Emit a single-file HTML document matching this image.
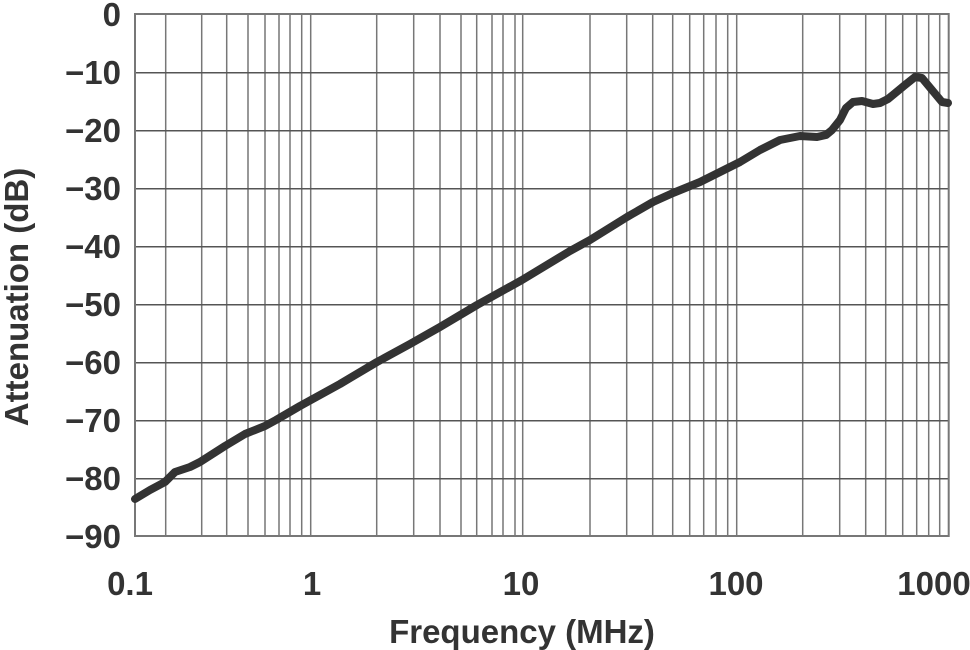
<!DOCTYPE html>
<html><head><meta charset="utf-8"><style>
html,body{margin:0;padding:0;background:#fff;}
svg{display:block;font-family:"Liberation Sans",Arial,sans-serif;font-weight:bold;fill:#333;}
</style></head><body>
<svg width="970" height="650" viewBox="0 0 970 650">
<g stroke="#777" stroke-width="1.5">
<line x1="165.7" y1="14" x2="165.7" y2="536"/><line x1="201.7" y1="14" x2="201.7" y2="536"/><line x1="226.7" y1="14" x2="226.7" y2="536"/><line x1="248" y1="14" x2="248" y2="536"/><line x1="265" y1="14" x2="265" y2="536"/><line x1="279" y1="14" x2="279" y2="536"/><line x1="290" y1="14" x2="290" y2="536"/><line x1="301.7" y1="14" x2="301.7" y2="536"/><line x1="310.7" y1="14" x2="310.7" y2="536"/>
<line x1="376.7" y1="14" x2="376.7" y2="536"/><line x1="413.7" y1="14" x2="413.7" y2="536"/><line x1="440" y1="14" x2="440" y2="536"/><line x1="461" y1="14" x2="461" y2="536"/><line x1="476.7" y1="14" x2="476.7" y2="536"/><line x1="492" y1="14" x2="492" y2="536"/><line x1="503" y1="14" x2="503" y2="536"/><line x1="515" y1="14" x2="515" y2="536"/><line x1="522.7" y1="14" x2="522.7" y2="536"/>
<line x1="590" y1="14" x2="590" y2="536"/><line x1="626.7" y1="14" x2="626.7" y2="536"/><line x1="652.7" y1="14" x2="652.7" y2="536"/><line x1="672.7" y1="14" x2="672.7" y2="536"/><line x1="689.7" y1="14" x2="689.7" y2="536"/><line x1="703.7" y1="14" x2="703.7" y2="536"/><line x1="716" y1="14" x2="716" y2="536"/><line x1="727.7" y1="14" x2="727.7" y2="536"/><line x1="736.7" y1="14" x2="736.7" y2="536"/>
<line x1="802.7" y1="14" x2="802.7" y2="536"/><line x1="839.7" y1="14" x2="839.7" y2="536"/><line x1="865.7" y1="14" x2="865.7" y2="536"/><line x1="885.7" y1="14" x2="885.7" y2="536"/><line x1="902.7" y1="14" x2="902.7" y2="536"/><line x1="916.7" y1="14" x2="916.7" y2="536"/><line x1="928.7" y1="14" x2="928.7" y2="536"/><line x1="939.7" y1="14" x2="939.7" y2="536"/>
</g>
<g stroke="#555" stroke-width="1.5">
<line x1="135" y1="72.7" x2="948.7" y2="72.7"/><line x1="135" y1="130.7" x2="948.7" y2="130.7"/><line x1="135" y1="188.7" x2="948.7" y2="188.7"/><line x1="135" y1="246.7" x2="948.7" y2="246.7"/><line x1="135" y1="304.7" x2="948.7" y2="304.7"/><line x1="135" y1="362.7" x2="948.7" y2="362.7"/><line x1="135" y1="420.7" x2="948.7" y2="420.7"/><line x1="135" y1="478.7" x2="948.7" y2="478.7"/>
</g>
<rect x="135" y="14" width="813.7" height="522" fill="none" stroke="#777" stroke-width="2"/>
<polyline fill="none" stroke="#333" stroke-width="8" stroke-linejoin="round" stroke-linecap="round" points="135,499 150,490 165,482 175,472 190,467 200,462 225,446 245,434 265,426 276,420 300,406 340,384 377,362 410,344 440,327 477,305 522,280 570,251 590,240 627,217 653,202 673,193 700,182 720,172 740,162 760,150 780,140 800,136 817,137 826,135 832,130 840,120 846,108 853,102 862,101 873,104 880,103 888,99 905,85 915,77 922,78 932,90 942,102 948,103"/>
<g font-size="33" text-anchor="end">
<text x="121" y="26">0</text><text x="121" y="84">−10</text><text x="121" y="142">−20</text><text x="121" y="200">−30</text><text x="121" y="258">−40</text><text x="121" y="316">−50</text><text x="121" y="374">−60</text><text x="121" y="432">−70</text><text x="121" y="490">−80</text><text x="121" y="548">−90</text>
</g>
<g font-size="33" text-anchor="middle">
<text x="130" y="595">0.1</text><text x="312" y="595">1</text><text x="521" y="595">10</text><text x="736" y="595">100</text><text x="934" y="595">1000</text>
</g>
<text x="522" y="643" font-size="33" text-anchor="middle">Frequency (MHz)</text>
<text transform="translate(28,297) rotate(-90)" font-size="33" text-anchor="middle">Attenuation (dB)</text>
</svg>
</body></html>
